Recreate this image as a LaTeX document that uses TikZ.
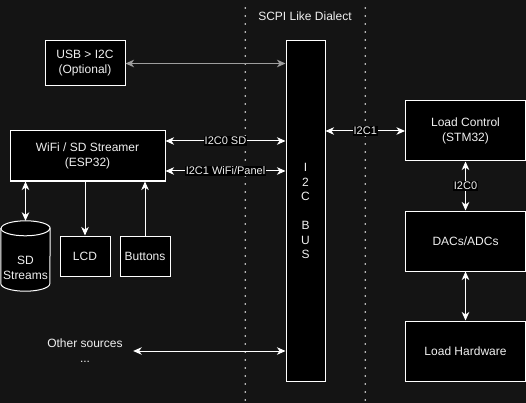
\documentclass[tikz,border=0pt]{standalone}
\usepackage{fontspec}
\setmainfont{Liberation Sans}
\usetikzlibrary{arrows.meta,calc}
\definecolor{BgClr}{rgb}{0.078,0.078,0.078}
\definecolor{TxtClr}{rgb}{0.94,0.94,0.94}
\definecolor{DimClr}{rgb}{0.62,0.62,0.62}

\begin{document}
\begin{tikzpicture}[x=1pt,y=-1pt,
  box/.style={draw=white,fill=black,text=TxtClr,line width=1pt,inner sep=0pt,
    align=center,font=\fontsize{12}{15}\selectfont},
  lbl/.style={fill=black,text=TxtClr,inner sep=1pt,font=\fontsize{11}{13}\selectfont},
  txt/.style={text=TxtClr,align=center,inner sep=0pt,font=\fontsize{12}{15}\selectfont},
  link/.style={draw=white,line width=1pt,<->},
  >={Stealth[length=8.5pt,width=7.5pt,inset=2.5pt]}]

% Φόντο και περιθώρια.
\fill[BgClr] (0,0) rectangle (526,403);
\useasboundingbox (0,0) rectangle (526,403);

% Διακεκομμένες γραμμές.
\draw[TxtClr,line width=1.8pt,line cap=round,dash pattern=on 0pt off 8pt] (245.3,8) -- (245.3,403);
\draw[TxtClr,line width=1.8pt,line cap=round,dash pattern=on 0pt off 8pt] (365.3,8) -- (365.3,403);

% Κόμβοι.
\node[txt] (scpi) at (305,16) {SCPI Like Dialect};
\node[box,minimum width=80pt,minimum height=45pt] (usb) at (85,63.5) {USB > I2C\\(Optional)};
\node[box,minimum width=155pt,minimum height=50pt] (wifi) at (87.5,156) {WiFi / SD Streamer\\(ESP32)};
\node[box,minimum width=39pt,minimum height=340pt,font=\fontsize{12}{14.5}\selectfont] (bus) at (305.5,211) {I\\2\\C\\\\B\\U\\S};
\node[box,minimum width=120pt,minimum height=60pt] (ctrl) at (465.5,131) {Load Control\\(STM32)};
\node[box,minimum width=120pt,minimum height=60pt] (dacs) at (465.5,241) {DACs/ADCs};
\node[box,minimum width=120pt,minimum height=60pt] (hw) at (465.5,351) {Load Hardware};
\node[box,minimum width=50pt,minimum height=40pt] (lcd) at (85,256) {LCD};
\node[box,minimum width=50pt,minimum height=40pt] (btn) at (145,256) {Buttons};
\node[txt,minimum width=96pt] (other) at (85,351) {Other sources\\...};

% Κύλινδρος SD.
\node[minimum width=49pt,minimum height=70pt,inner sep=0pt] (sd) at (25.5,256) {};
\draw[draw=white,fill=black,line width=1pt] ($(sd.north west)+(0,7.5)$) -- ($(sd.south west)+(0,-7.5)$)
  arc[start angle=180,end angle=0,x radius=24.5,y radius=7.5] -- ($(sd.north east)+(0,7.5)$)
  arc[start angle=0,end angle=-180,x radius=24.5,y radius=7.5] -- cycle;
\draw[draw=white,line width=1pt] ($(sd.north west)+(0,7.5)$) arc[start angle=180,end angle=0,x radius=24.5,y radius=7.5];
\node[txt] (sdtxt) at ([yshift=-12pt]sd.center) {SD\\Streams};

% Βοηθητικά σημεία.
\coordinate (w0) at ([yshift=15pt]wifi.east);
\coordinate (w1) at ([yshift=-15pt]wifi.east);

% Συνδέσεις.
\draw[link,draw=DimClr] (usb.east) -- (usb.east -| bus.west);
\draw[link] (w0) -- node[lbl] {I2C0 SD} (w0 -| bus.west);
\draw[link] (w1) -- node[lbl] {I2C1 WiFi/Panel} (w1 -| bus.west);
\draw[link] (ctrl.west -| bus.east) -- node[lbl] {I2C1} (ctrl.west);
\draw[link] (ctrl.south) -- node[lbl] {I2C0} (dacs.north);
\draw[link] (dacs.south) -- (hw.north);
\draw[link] (other.east) -- (other.east -| bus.west);
\draw[link] (sd.north |- wifi.south) -- (sd.north);
\draw[link,->] (lcd.north |- wifi.south) -- (lcd.north);
\draw[link,->] (btn.north) -- (btn.north |- wifi.south);

\end{tikzpicture}
\end{document}
